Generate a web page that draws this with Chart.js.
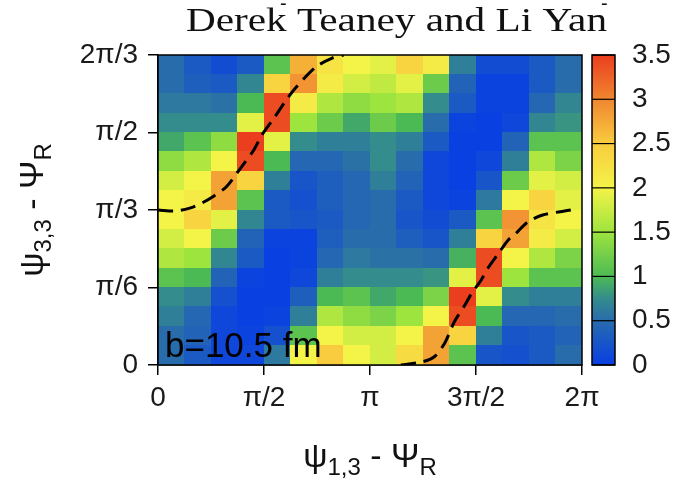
<!DOCTYPE html>
<html>
<head>
<meta charset="utf-8">
<script src="https://cdn.jsdelivr.net/npm/chart.js@4.4.0/dist/chart.umd.min.js"></script>
<style>
  html, body { margin: 0; padding: 0; background: #fff; }
  #wrap { width: 700px; height: 479px; }
</style>
</head>
<body>
<div id="wrap"><canvas id="c" width="700" height="479"></canvas></div>
<script>
const PI = Math.PI
const xMax = 2 * PI
const yMax = 2 * PI / 3

const xTickVals = [0, PI / 2, PI, 3 * PI / 2, 2 * PI]
const xTickLabels = ['0', 'π/2', 'π', '3π/2', '2π']
const yTickVals = [0, PI / 6, PI / 3, PI / 2, 2 * PI / 3]
const yTickLabels = ['0', 'π/6', 'π/3', 'π/2', '2π/3']
const cbTickVals = [0, 0.5, 1, 1.5, 2, 2.5, 3, 3.5]
const cbTickLabels = ['0', '0.5', '1', '1.5', '2', '2.5', '3', '3.5']

// 16 x 16 cells, rows listed from the top (2π/3) down to 0
const density = [
  [0.5, 0.3, 0.15, 0.3, 1.1, 2.7, 2.2, 2.0, 1.9, 2.4, 2.1, 0.65, 0.15, 0.15, 0.3, 0.5],
  [0.5, 0.35, 0.3, 0.7, 2.4, 2.9, 2.1, 1.8, 1.7, 1.9, 1.2, 0.4, 0.05, 0.05, 0.3, 0.5],
  [0.6, 0.6, 0.55, 1.0, 3.4, 2.1, 1.6, 1.4, 1.5, 1.6, 0.75, 0.3, 0.05, 0.05, 0.45, 0.7],
  [0.75, 0.75, 0.75, 1.9, 3.4, 1.5, 1.2, 0.9, 1.2, 1.0, 0.5, 0.05, 0.02, 0.1, 0.7, 0.8],
  [0.9, 1.1, 1.4, 3.5, 1.9, 0.75, 0.65, 0.65, 0.75, 0.65, 0.3, 0.02, 0.02, 0.4, 1.1, 1.1],
  [1.4, 1.6, 2.0, 3.4, 1.0, 0.45, 0.45, 0.55, 0.75, 0.5, 0.1, 0.02, 0.1, 0.65, 1.6, 1.3],
  [1.8, 2.0, 2.8, 2.4, 0.65, 0.25, 0.35, 0.45, 0.65, 0.4, 0.1, 0.02, 0.25, 1.2, 1.9, 1.8],
  [2.0, 2.1, 2.8, 1.1, 0.3, 0.2, 0.35, 0.45, 0.5, 0.3, 0.1, 0.05, 0.6, 2.0, 2.4, 1.9],
  [2.0, 2.4, 1.9, 0.7, 0.3, 0.25, 0.3, 0.45, 0.5, 0.25, 0.15, 0.3, 1.1, 2.9, 2.2, 2.0],
  [1.8, 2.0, 1.2, 0.4, 0.05, 0.05, 0.35, 0.5, 0.5, 0.35, 0.25, 0.65, 2.4, 2.8, 2.1, 1.8],
  [1.6, 1.5, 0.7, 0.3, 0.02, 0.05, 0.45, 0.6, 0.55, 0.55, 0.5, 0.95, 3.4, 2.0, 1.6, 1.3],
  [1.1, 1.0, 0.4, 0.05, 0.02, 0.1, 0.65, 0.75, 0.75, 0.75, 0.8, 1.9, 3.4, 1.5, 1.1, 1.1],
  [0.75, 0.65, 0.2, 0.02, 0.02, 0.35, 1.0, 1.1, 0.9, 1.0, 1.3, 3.5, 1.9, 0.75, 0.65, 0.65],
  [0.65, 0.45, 0.1, 0.02, 0.05, 0.65, 1.6, 1.4, 1.3, 1.5, 2.0, 3.4, 1.0, 0.45, 0.45, 0.5],
  [0.5, 0.4, 0.1, 0.05, 0.2, 1.1, 2.0, 1.8, 1.8, 2.0, 2.8, 2.4, 0.65, 0.25, 0.3, 0.4],
  [0.5, 0.3, 0.1, 0.1, 0.6, 2.0, 2.5, 2.0, 1.8, 2.3, 2.8, 1.1, 0.25, 0.2, 0.3, 0.5]
]

// dashed curve, two branches
const curveA = [
  [0, 1.047], [0.25, 1.04], [0.47, 1.06], [0.65, 1.094], [0.83, 1.142], [1.01, 1.203],
  [1.17, 1.297], [1.29, 1.371], [1.42, 1.453], [1.54, 1.554], [1.72, 1.669], [1.90, 1.79],
  [2.05, 1.878], [2.34, 2.013], [2.58, 2.074], [2.75, 2.094]
]
const curveB = [
  [3.6, 0], [3.9, 0.02], [4.09, 0.054], [4.25, 0.149], [4.39, 0.291], [4.53, 0.392],
  [4.65, 0.486], [4.79, 0.574], [4.89, 0.655], [5.04, 0.75], [5.19, 0.845], [5.28, 0.878],
  [5.48, 0.966], [5.7, 1.013], [6.12, 1.047]
]

const cmapVals = [0, 0.5, 0.75, 1, 1.5, 2, 2.5, 3, 3.5]
const cmapRgb = [[8, 62, 228], [40, 108, 172], [52, 140, 140], [76, 186, 84], [158, 228, 62],
  [244, 243, 72], [248, 204, 62], [240, 134, 48], [234, 62, 30]]

function colorFor(v) {
  let i = 0
  while (i < cmapVals.length - 2 && v > cmapVals[i + 1]) i++
  const t = Math.min(1, Math.max(0, (v - cmapVals[i]) / (cmapVals[i + 1] - cmapVals[i])))
  const a = cmapRgb[i], b = cmapRgb[i + 1]
  return 'rgb(' + a.map((c, k) => Math.round(c + (b[k] - c) * t)).join(',') + ')'
}

const sans = 'Liberation Sans'

const heatmap = {
  id: 'heatmap',
  beforeDatasetsDraw(chart) {
    const { ctx, scales: { x, y } } = chart
    const nRows = density.length, nCols = density[0].length
    const dx = xMax / nCols, dy = yMax / nRows
    ctx.save()
    density.forEach((row, i) => {
      const r = nRows - 1 - i
      row.forEach((v, c) => {
        const x0 = Math.floor(x.getPixelForValue(c * dx))
        const x1 = Math.ceil(x.getPixelForValue((c + 1) * dx))
        const y0 = Math.floor(y.getPixelForValue((r + 1) * dy))
        const y1 = Math.ceil(y.getPixelForValue(r * dy))
        ctx.fillStyle = colorFor(v)
        ctx.fillRect(x0, y0, x1 - x0, y1 - y0)
      })
    })
    ctx.restore()
  },
  afterDatasetsDraw(chart) {
    const { ctx, chartArea: a } = chart
    ctx.save()
    ctx.strokeStyle = '#000'
    ctx.lineWidth = 1.5
    ctx.strokeRect(a.left, a.top, a.right - a.left, a.bottom - a.top)
    ctx.restore()
  }
}

function drawLabel(ctx, parts, cx, cy, rotate) {
  ctx.save()
  ctx.translate(cx, cy)
  if (rotate) ctx.rotate(-PI / 2)
  let w = 0
  parts.forEach(p => { ctx.font = p.size + 'px ' + sans; w += ctx.measureText(p.t).width })
  let xx = -w / 2
  ctx.fillStyle = '#111'
  ctx.textBaseline = 'alphabetic'
  parts.forEach(p => {
    ctx.font = p.size + 'px ' + sans
    ctx.fillText(p.t, xx, p.dy)
    xx += ctx.measureText(p.t).width
  })
  ctx.restore()
}

const decorations = {
  id: 'decorations',
  afterDraw(chart) {
    const { ctx, chartArea: a } = chart
    const cb = chart.scales.cb
    // colour bar
    const bx = a.right + 10, bw = 23
    const top = cb.getPixelForValue(3.5), bot = cb.getPixelForValue(0)
    const g = ctx.createLinearGradient(0, bot, 0, top)
    cmapVals.forEach((v, i) => g.addColorStop(v / 3.5, colorFor(v)))
    ctx.save()
    ctx.fillStyle = g
    ctx.fillRect(bx, top, bw, bot - top)
    ctx.strokeStyle = '#000'
    ctx.lineWidth = 1.2
    cbTickVals.forEach(v => {
      const py = cb.getPixelForValue(v)
      ctx.beginPath(); ctx.moveTo(bx, py); ctx.lineTo(bx + bw, py); ctx.stroke()
    })
    ctx.lineWidth = 1.5
    ctx.strokeRect(bx, top, bw, bot - top)

    // title
    ctx.fillStyle = '#111'
    ctx.font = '33px "Liberation Serif"'
    ctx.textBaseline = 'alphabetic'
    const title = 'Derek Teaney and Li Yan'
    const tw = ctx.measureText(title).width
    ctx.save()
    ctx.translate(186, 31)
    ctx.scale(421 / tw, 1)
    ctx.fillText(title, 0, 0)
    ctx.restore()
    ctx.font = '20px ' + sans
    ctx.fillText('-', 280, 10)
    ctx.fillText('-', 601, 10)

    // inset text
    ctx.font = '35px ' + sans
    ctx.fillStyle = '#000'
    ctx.fillText('b=10.5 fm', a.left + 7, a.bottom - 8)
    ctx.restore()

    drawLabel(ctx, [
      { t: 'ψ', size: 34, dy: 0 }, { t: '1,3', size: 24, dy: 8 }, { t: ' - ', size: 34, dy: 0 },
      { t: 'Ψ', size: 34, dy: 0 }, { t: 'R', size: 24, dy: 8 }
    ], (a.left + a.right) / 2, 467, false)
    drawLabel(ctx, [
      { t: 'ψ', size: 34, dy: 0 }, { t: '3,3', size: 24, dy: 8 }, { t: ' - ', size: 34, dy: 0 },
      { t: 'Ψ', size: 34, dy: 0 }, { t: 'R', size: 24, dy: 8 }
    ], 43, (a.top + a.bottom) / 2, true)
  }
}

const tickFont = { family: sans, size: 28 }

new Chart(document.getElementById('c'), {
  type: 'scatter',
  data: {
    datasets: [curveA, curveB].map(curve => ({
      data: curve.map(p => ({ x: p[0], y: p[1] })),
      showLine: true,
      borderColor: '#000',
      borderWidth: 3,
      borderDash: [15, 8],
      pointRadius: 0,
      tension: 0.3
    }))
  },
  options: {
    responsive: false,
    animation: false,
    events: [],
    layout: { padding: { top: 55, left: 0, right: 0, bottom: 0 } },
    plugins: { legend: { display: false }, tooltip: { enabled: false } },
    scales: {
      x: {
        type: 'linear', min: 0, max: xMax,
        afterBuildTicks: s => { s.ticks = xTickVals.map(v => ({ value: v })) },
        afterFit: s => { s.height = 114 },
        ticks: { font: tickFont, color: '#1a1a1a', padding: 6, maxRotation: 0, callback: (v, i) => xTickLabels[i] },
        grid: { drawOnChartArea: false, tickLength: 10, color: '#000', lineWidth: 1.5 },
        border: { color: '#000', width: 1.5 }
      },
      y: {
        type: 'linear', min: 0, max: yMax,
        afterBuildTicks: s => { s.ticks = yTickVals.map(v => ({ value: v })) },
        afterFit: s => { s.width = 158 },
        ticks: { font: tickFont, color: '#1a1a1a', padding: 10, callback: (v, i) => yTickLabels[i] },
        grid: { drawOnChartArea: false, tickLength: 10, color: '#000', lineWidth: 1.5 },
        border: { color: '#000', width: 1.5 }
      },
      cb: {
        type: 'linear', position: 'right', min: 0, max: 3.5,
        afterBuildTicks: s => { s.ticks = cbTickVals.map(v => ({ value: v })) },
        afterFit: s => { s.width = 118 },
        ticks: { font: tickFont, color: '#1a1a1a', padding: 8, callback: (v, i) => cbTickLabels[i] },
        grid: { display: false, drawTicks: true, tickLength: 42 },
        border: { display: false }
      }
    }
  },
  plugins: [heatmap, decorations]
})
</script>
</body>
</html>
